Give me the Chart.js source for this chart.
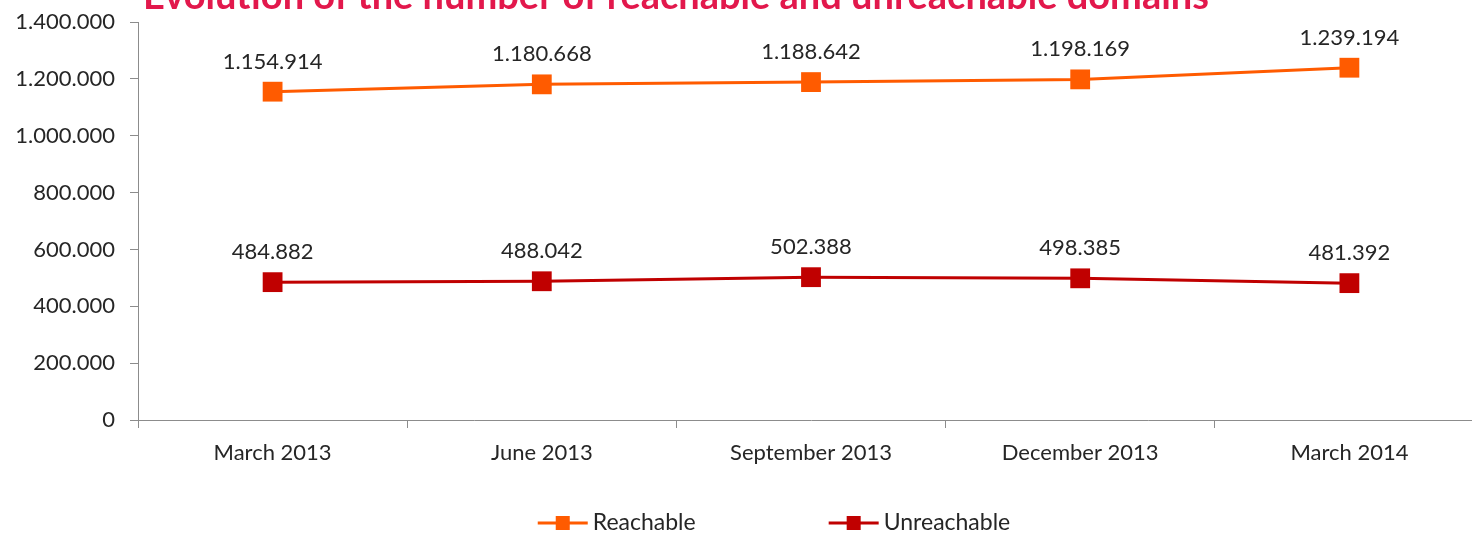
<!DOCTYPE html>
<html>
<head>
<meta charset="utf-8">
<title>Reachable and unreachable domains</title>
<script src="https://cdn.jsdelivr.net/npm/chart.js@4.4.1/dist/chart.umd.min.js"></script>
<style>
  html, body { margin: 0; padding: 0; background: #fff; overflow: hidden; }
</style>
</head>
<body>
<canvas id="c" width="1500" height="533"></canvas>
<script>
// data
const chartTitle = 'Evolution of the number of reachable and unreachable domains';
const categories = ['March 2013', 'June 2013', 'September 2013', 'December 2013', 'March 2014'];
const seriesNames = ['Reachable', 'Unreachable'];
const reachable = [1154914, 1180668, 1188642, 1198169, 1239194];
const unreachable = [484882, 488042, 502388, 498385, 481392];
const yTicks = [0, 200000, 400000, 600000, 800000, 1000000, 1200000, 1400000];

const orange = '#FF5B00';
const darkRed = '#C00000';
const axisGrey = '#8C8C8C';
const textColor = '#262626';
const font = 'Lato';

// 1.154.914 style
const fmt = v => String(v).replace(/\B(?=(\d{3})+(?!\d))/g, '.');

// title is cut off by the top edge in the reference
const titleText = {
    id: 'titleText',
    afterDraw(chart) {
        const ctx = chart.ctx;
        ctx.save();
        ctx.font = `bold 38px ${font}`;
        ctx.fillStyle = '#E2184C';
        ctx.textAlign = 'left';
        ctx.textBaseline = 'alphabetic';
        ctx.fillText(chartTitle, 143, 9);
        ctx.restore();
    }
};

const pointLabels = {
    id: 'pointLabels',
    afterDatasetsDraw(chart) {
        const ctx = chart.ctx;
        ctx.save();
        ctx.font = `22px ${font}`;
        ctx.fillStyle = textColor;
        ctx.textAlign = 'center';
        ctx.textBaseline = 'middle';
        chart.data.datasets.forEach((ds, i) => {
            chart.getDatasetMeta(i).data.forEach((pt, j) => {
                ctx.fillText(fmt(ds.data[j]), pt.x, pt.y - 30);
            });
        });
        ctx.restore();
    }
};

// Excel-like legend: short line with a square marker, then the name
const lineLegend = {
    id: 'lineLegend',
    afterDraw(chart) {
        const ctx = chart.ctx;
        ctx.save();
        ctx.font = `23px ${font}`;
        const sw = 50, gap = 5, spacing = 133, y = 523, sq = 14;
        const items = chart.data.datasets.map(ds => ({ ds, w: sw + gap + ctx.measureText(ds.label).width }));
        const total = items.reduce((s, it) => s + it.w, 0) + spacing * (items.length - 1);
        let x = 774 - total / 2;
        items.forEach(({ ds, w }) => {
            ctx.strokeStyle = ds.borderColor;
            ctx.lineWidth = 3;
            ctx.beginPath();
            ctx.moveTo(x, y);
            ctx.lineTo(x + sw, y);
            ctx.stroke();
            ctx.fillStyle = ds.borderColor;
            ctx.fillRect(x + sw / 2 - sq / 2, y - sq / 2, sq, sq);
            ctx.fillStyle = textColor;
            ctx.textAlign = 'left';
            ctx.textBaseline = 'middle';
            ctx.fillText(ds.label, x + sw + gap, y);
            x += w + spacing;
        });
        ctx.restore();
    }
};

function series(label, data, color) {
    return {
        label, data,
        borderColor: color,
        backgroundColor: color,
        borderWidth: 3,
        pointStyle: 'rect',
        pointRadius: 14,
        pointHoverRadius: 14,
        pointBorderWidth: 0,
        pointBackgroundColor: color,
        tension: 0
    };
}

new Chart(document.getElementById('c'), {
    type: 'line',
    data: {
        labels: categories,
        datasets: [
            series(seriesNames[0], reachable, orange),
            series(seriesNames[1], unreachable, darkRed)
        ]
    },
    options: {
        responsive: false,
        animation: false,
        layout: { padding: { top: 22, right: 16, left: 0, bottom: 0 } },
        plugins: {
            legend: { display: false },
            tooltip: { enabled: false },
            title: { display: false }
        },
        scales: {
            x: {
                offset: true,
                grid: { offset: true, drawOnChartArea: false, drawTicks: true, tickLength: 8, color: axisGrey },
                border: { color: axisGrey },
                ticks: { color: textColor, font: { family: font, size: 22 }, padding: 12, maxRotation: 0 },
                afterFit(s) { s.height = 113; }
            },
            y: {
                min: 0,
                max: 1400000,
                grid: { drawOnChartArea: false, drawTicks: true, tickLength: 8, color: axisGrey },
                border: { color: axisGrey },
                ticks: { color: textColor, font: { family: font, size: 22 }, padding: 15, callback: v => fmt(v) },
                afterBuildTicks(s) { s.ticks = yTicks.map(v => ({ value: v })); },
                afterFit(s) { s.width = 138; s.paddingTop = 0; s.paddingBottom = 0; }
            }
        }
    },
    plugins: [titleText, pointLabels, lineLegend]
});
</script>
</body>
</html>
